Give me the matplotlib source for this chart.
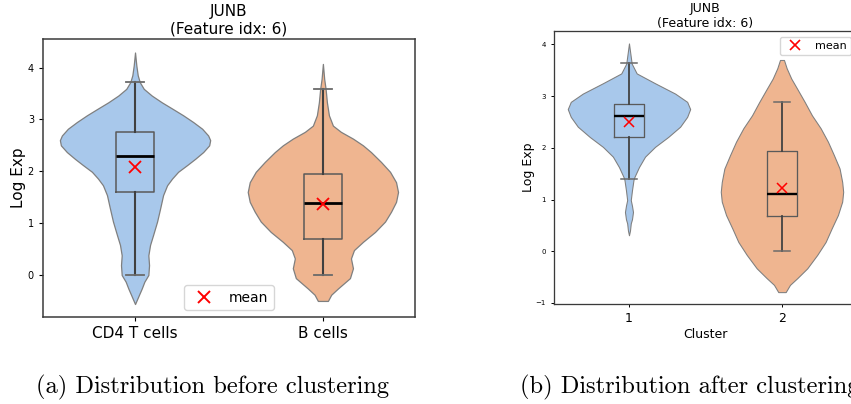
import numpy as np
import matplotlib.pyplot as plt
from matplotlib.lines import Line2D

# (a) before clustering
groups_a = ["CD4 T cells", "B cells"]
cd4_y = [-0.56, -0.38, -0.26, -0.13, 0.00, 0.19, 0.38, 0.58, 0.77, 1.03, 1.28, 1.54, 1.73,
         1.86, 1.99, 2.12, 2.24, 2.37, 2.50, 2.60, 2.69, 2.82, 2.95, 3.08, 3.21, 3.33,
         3.46, 3.59, 3.72, 3.85, 4.04, 4.29]
cd4_dens = [0, 4, 6.7, 9.3, 13.3, 14, 13.3, 15, 18, 22, 25, 28, 32,
            37, 43, 52, 60, 68, 74, 75, 73, 67, 58, 48, 37, 26.7,
            16.7, 8.7, 4.7, 2.7, 1.3, 0]
bcell_y = [-0.50, -0.38, -0.26, -0.06, 0.13, 0.32, 0.48, 0.64, 0.83, 1.03, 1.22, 1.41, 1.60,
           1.79, 1.99, 2.18, 2.37, 2.50, 2.63, 2.76, 2.88, 3.08, 3.33, 3.59, 3.78, 4.07]
bcell_dens = [5, 8.3, 15, 27, 30, 28, 31, 40, 52, 62, 68, 73, 75,
              73, 67, 58, 48, 40, 30, 18, 10, 6, 4, 2.7, 1.3, 0]
q1_a = [1.61, 0.69]
med_a = [2.30, 1.39]
q3_a = [2.76, 1.94]
lo_a = [0.0, 0.0]
hi_a = [3.73, 3.58]
mean_a = [2.08, 1.37]

# (b) after clustering
clusters_b = [1, 2]
c1_y = [0.31, 0.40, 0.54, 0.62, 0.76, 0.88, 0.99, 1.18, 1.38, 1.44, 1.63, 1.83, 2.02, 2.21,
        2.41, 2.60, 2.75, 2.89, 3.05, 3.25, 3.44, 3.63, 4.02]
c1_dens = [0, 1, 1.8, 3, 4, 3, 1.8, 3, 4.5, 5.5, 10, 16, 26, 39,
           51, 58, 61, 58, 46, 26, 7.7, 2.7, 0]
c2_y = [-0.79, -0.65, -0.52, -0.33, -0.07, 0.18, 0.44, 0.70, 0.96, 1.15, 1.34, 1.60, 1.86,
        2.12, 2.38, 2.63, 2.89, 3.15, 3.34, 3.54, 3.70]
c2_dens = [3.7, 8, 15.3, 25.3, 35.3, 43.7, 49.7, 56, 60.3, 61.3, 60.3, 57.7, 52,
           46, 38.7, 30, 22.7, 15, 9.3, 4.7, 2]
q1_b = [2.21, 0.69]
med_b = [2.61, 1.10]
q3_b = [2.84, 1.94]
lo_b = [1.39, 0.0]
hi_b = [3.64, 2.89]
mean_b = [2.50, 1.23]

colors = ["#a8c8eb", "#efb590"]


def draw_panel(ax, pos, ys, dens, q1, med, q3, lo, hi, mean, lw, ms):
    vstats = []
    for y, d, m, md in zip(ys, dens, mean, med):
        vstats.append({"coords": np.array(y), "vals": np.array(d, dtype=float),
                       "mean": m, "median": md, "min": min(y), "max": max(y)})
    parts = ax.violin(vstats, positions=pos, widths=0.8, showextrema=False)
    for body, c in zip(parts["bodies"], colors):
        body.set_facecolor(c)
        body.set_edgecolor("#7f7f7f")
        body.set_linewidth(0.9 * lw)
        body.set_alpha(1)
    bstats = []
    for i in range(len(pos)):
        bstats.append(dict(med=med[i], q1=q1[i], q3=q3[i], whislo=lo[i], whishi=hi[i],
                           mean=mean[i], fliers=[]))
    bp = ax.bxp(bstats, positions=pos, widths=0.2, capwidths=0.1, showmeans=True,
                boxprops=dict(color="#5a5a5a", lw=1.1 * lw),
                whiskerprops=dict(color="#404040", lw=1.5 * lw),
                capprops=dict(color="#6a6a6a", lw=1.3 * lw),
                medianprops=dict(color="black", lw=2 * lw),
                meanprops=dict(marker="x", markeredgecolor="red", markersize=ms,
                               markeredgewidth=1.3 * lw, linestyle="none"))
    for s in ax.spines.values():
        s.set_color("#3a3a3a")
        s.set_linewidth(1.1 * lw)
    return bp


fig = plt.figure(figsize=(8.51, 4.04), dpi=100)

ax1 = fig.add_axes([0.0505, 0.2153, 0.4371, 0.6881])
bp = draw_panel(ax1, [0, 1], [cd4_y, bcell_y], [cd4_dens, bcell_dens],
                q1_a, med_a, q3_a, lo_a, hi_a, mean_a, 1.0, 8)
ax1.set_xlim(-0.49, 1.49)
ax1.set_ylim(-0.81, 4.55)
ax1.set_xticks([0, 1])
ax1.set_xticklabels(groups_a, fontsize=11)
ax1.set_yticks([0, 1, 2, 3, 4])
ax1.tick_params(axis="y", labelsize=7, length=3, width=0.8)
ax1.tick_params(axis="x", length=3, width=0.8)
ax1.set_ylabel("Log Exp", fontsize=11, labelpad=1)
ax1.set_title("JUNB\n(Feature idx: 6)", fontsize=11, pad=4)
h = Line2D([], [], marker="x", color="red", markersize=8, markeredgewidth=1.4, linestyle="none")
ax1.legend([h], ["mean"], loc="lower center", fontsize=10)

ax2 = fig.add_axes([0.651, 0.2475, 0.356, 0.6757])
draw_panel(ax2, clusters_b, [c1_y, c2_y], [c1_dens, c2_dens],
           q1_b, med_b, q3_b, lo_b, hi_b, mean_b, 0.85, 7)
ax2.set_xlim(0.51, 2.49)
ax2.set_ylim(-1.02, 4.26)
ax2.set_xticks(clusters_b)
ax2.set_xticklabels([str(c) for c in clusters_b], fontsize=9)
ax2.set_yticks([-1, 0, 1, 2, 3, 4])
ax2.tick_params(axis="y", labelsize=5, length=2.5, width=0.7)
ax2.tick_params(axis="x", length=2.5, width=0.7)
ax2.set_xlabel("Cluster", fontsize=9, labelpad=2)
ax2.set_ylabel("Log Exp", fontsize=9, labelpad=0)
ax2.set_title("JUNB\n(Feature idx: 6)", fontsize=9, pad=3)
h2 = Line2D([], [], marker="x", color="red", markersize=7, markeredgewidth=1.2, linestyle="none")
ax2.legend([h2], ["mean"], loc="upper right", fontsize=8)

fig.text(0.0423, 0.042, "(a) Distribution before clustering", fontsize=17.6,
         family="cmr10", ha="left", va="center")
fig.text(0.611, 0.042, "(b) Distribution after clustering", fontsize=17.6,
         family="cmr10", ha="left", va="center")

fig.savefig("out.png", dpi=100)
